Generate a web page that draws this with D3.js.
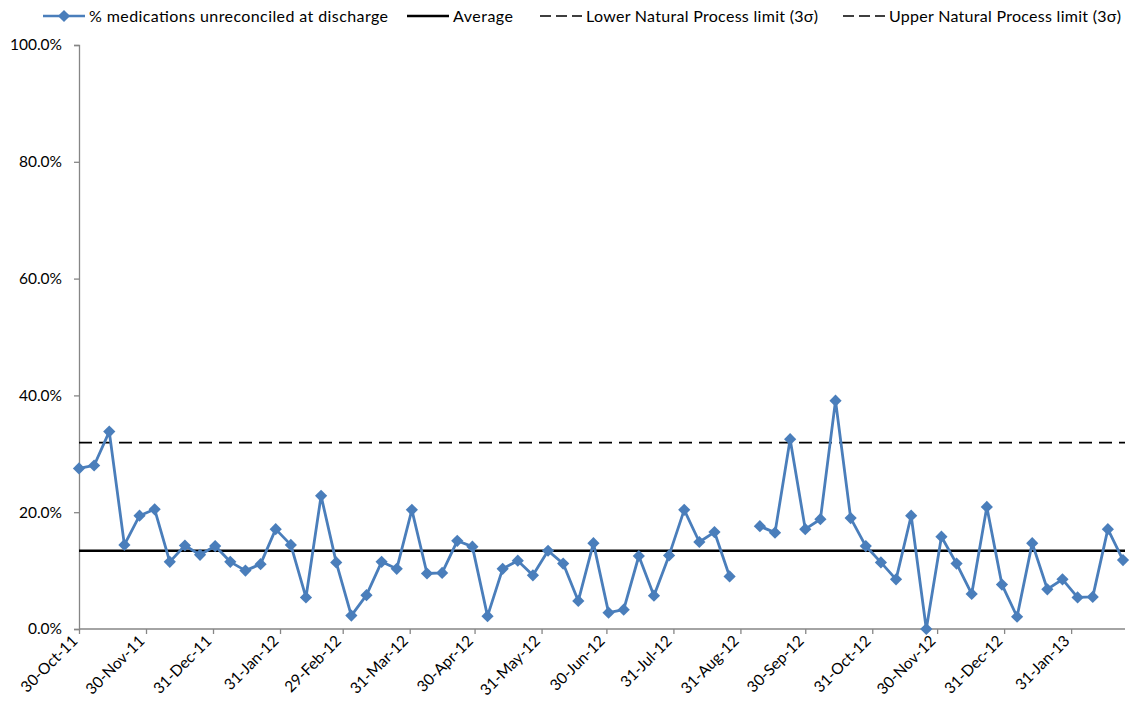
<!DOCTYPE html>
<html>
<head>
<meta charset="utf-8">
<script src="https://cdn.jsdelivr.net/npm/d3@7"></script>
<style>
  body { margin: 0; background: #fff; }
  svg text { font-family: Lato, "Open Sans", sans-serif; fill: #000; }
</style>
</head>
<body>
<svg id="chart" width="1131" height="708"></svg>
<script>
// weekly dates (Sundays)
var weeks = [
  "2011-10-30","2011-11-06","2011-11-13","2011-11-20","2011-11-27","2011-12-04","2011-12-11","2011-12-18","2011-12-25",
  "2012-01-01","2012-01-08","2012-01-15","2012-01-22","2012-01-29","2012-02-05","2012-02-12","2012-02-19","2012-02-26",
  "2012-03-04","2012-03-11","2012-03-18","2012-03-25","2012-04-01","2012-04-08","2012-04-15","2012-04-22","2012-04-29",
  "2012-05-06","2012-05-13","2012-05-20","2012-05-27","2012-06-03","2012-06-10","2012-06-17","2012-06-24","2012-07-01",
  "2012-07-08","2012-07-15","2012-07-22","2012-07-29","2012-08-05","2012-08-12","2012-08-19","2012-08-26","2012-09-02",
  "2012-09-09","2012-09-16","2012-09-23","2012-09-30","2012-10-07","2012-10-14","2012-10-21","2012-10-28","2012-11-04",
  "2012-11-11","2012-11-18","2012-11-25","2012-12-02","2012-12-09","2012-12-16","2012-12-23","2012-12-30","2013-01-06",
  "2013-01-13","2013-01-20","2013-01-27","2013-02-03","2013-02-10","2013-02-17","2013-02-24"
];

// % medications unreconciled at discharge (null = no data that week)
var unreconciled = [
  27.5, 28.0, 33.8, 14.4, 19.4, 20.5, 11.5, 14.3, 12.7, 14.2,
  11.5, 10.0, 11.1, 17.1, 14.4, 5.4, 22.8, 11.4, 2.3, 5.8,
  11.5, 10.3, 20.4, 9.5, 9.6, 15.1, 14.1, 2.2, 10.3, 11.7,
  9.2, 13.4, 11.2, 4.8, 14.7, 2.8, 3.3, 12.5, 5.7, 12.6,
  20.4, 14.9, 16.6, 9.0, null, 17.6, 16.5, 32.5, 17.1, 18.8,
  39.1, 19.0, 14.2, 11.4, 8.5, 19.4, 0.0, 15.8, 11.2, 6.0,
  20.9, 7.6, 2.1, 14.7, 6.8, 8.5, 5.4, 5.5, 17.1, 11.8
];

var average = 13.4;
var lowerLimit = -5.1;
var upperLimit = 31.9;

var tickDates = [
  "2011-10-30","2011-11-30","2011-12-31","2012-01-31","2012-02-29","2012-03-31","2012-04-30","2012-05-31",
  "2012-06-30","2012-07-31","2012-08-31","2012-09-30","2012-10-31","2012-11-30","2012-12-31","2013-01-31"
];
var yTicks = [0, 20, 40, 60, 80, 100];

var legendItems = [
  { name: "% medications unreconciled at discharge", kind: "series", x: 43, w: 299 },
  { name: "Average", kind: "avg", x: 407, w: 60 },
  { name: "Lower Natural Process limit (3\u03c3)", kind: "limit", x: 540, w: 232 },
  { name: "Upper Natural Process limit (3\u03c3)", kind: "limit", x: 843, w: 232 }
];

document.addEventListener("DOMContentLoaded", () => {
  var parse = d3.timeParse("%Y-%m-%d");
  var fmtTick = d3.timeFormat("%-d-%b-%y");
  var blue = "#4a7ebb", axisGray = "#868686";

  var points = weeks.map((w, i) => ({ date: parse(w), value: unreconciled[i] }));
  var svg = d3.select("#chart");

  var left = 79, right = 1123, top = 45, bottom = 629;

  var x = d3.scaleTime()
    .domain([parse(weeks[0]), parse(weeks[weeks.length - 1])])
    .range([left, right]);
  var y = d3.scaleLinear().domain([0, 100]).range([bottom, top]);

  svg.append("defs").append("clipPath").attr("id", "plot")
    .append("rect").attr("x", left).attr("y", top - 2).attr("width", right - left + 10).attr("height", bottom - top + 2);

  // y axis
  var yAxis = svg.append("g")
    .attr("transform", "translate(" + left + ",0)")
    .call(d3.axisLeft(y).tickValues(yTicks).tickSize(5).tickPadding(12)
      .tickFormat((d) => d3.format(".1f")(d) + "%"));
  yAxis.selectAll("path, line").attr("stroke", axisGray).attr("stroke-width", 1.3);
  yAxis.selectAll("text").style("font-size", "15.5px").attr("fill", "#000");

  // x axis
  var xAxis = svg.append("g")
    .attr("transform", "translate(0," + bottom + ")")
    .call(d3.axisBottom(x).tickValues(tickDates.map(parse)).tickSize(5).tickFormat(fmtTick));
  xAxis.select(".domain").attr("d", "M" + left + ",0H" + (right + 2));
  xAxis.selectAll("path, line").attr("stroke", axisGray).attr("stroke-width", 1.3);
  xAxis.selectAll("text")
    .style("font-size", "15.5px")
    .attr("fill", "#000")
    .attr("text-anchor", "end")
    .attr("dy", null)
    .attr("y", 0)
    .attr("transform", "translate(-1,13) rotate(-45)");

  var plot = svg.append("g").attr("clip-path", "url(#plot)");

  // control lines
  var hline = (val, dash) => plot.append("line")
    .attr("x1", left).attr("x2", right + 2)
    .attr("y1", y(val)).attr("y2", y(val))
    .attr("stroke", "#000").attr("stroke-width", dash ? 1.7 : 2.6)
    .attr("stroke-dasharray", dash ? "13,7" : null);
  hline(lowerLimit, true);
  hline(upperLimit, true);
  hline(average, false);

  // series
  var line = d3.line()
    .defined((d) => d.value != null)
    .x((d) => x(d.date))
    .y((d) => y(d.value));
  svg.append("path").datum(points)
    .attr("fill", "none").attr("stroke", blue).attr("stroke-width", 2.8)
    .attr("stroke-linejoin", "round")
    .attr("d", line);

  var diamond = d3.symbol().type(d3.symbolDiamond2).size(95);
  svg.selectAll(".pt").data(points.filter((d) => d.value != null))
    .enter().append("path")
    .attr("class", "pt")
    .attr("transform", (d) => "translate(" + x(d.date) + "," + y(d.value) + ")")
    .attr("d", diamond)
    .attr("fill", blue);

  // legend
  var legend = svg.append("g").attr("transform", "translate(0,16)");
  legendItems.forEach((item) => {
    var g = legend.append("g").attr("transform", "translate(" + item.x + ",0)");
    g.append("line").attr("x1", 0).attr("x2", 42).attr("y1", 0).attr("y2", 0)
      .attr("stroke", item.kind == "series" ? blue : "#000")
      .attr("stroke-width", item.kind == "limit" ? 1.7 : 2.6)
      .attr("stroke-dasharray", item.kind == "limit" ? "11,5" : null);
    if (item.kind == "series") {
      g.append("path").attr("transform", "translate(21,0)").attr("d", diamond).attr("fill", blue);
    }
    g.append("text").attr("x", 46).attr("y", 5.5).style("font-size", "16px")
      .attr("textLength", item.w).attr("lengthAdjust", "spacing")
      .text(item.name);
  });
});
</script>
</body>
</html>
